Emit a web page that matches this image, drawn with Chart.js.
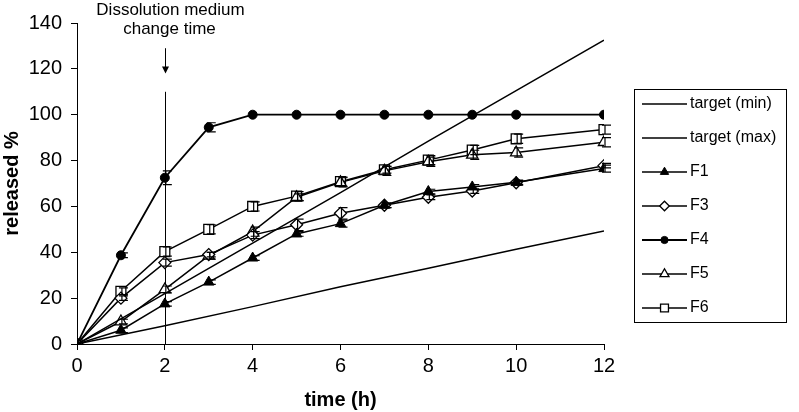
<!DOCTYPE html>
<html>
<head>
<meta charset="utf-8">
<script src="https://cdn.jsdelivr.net/npm/chart.js@4.4.0/dist/chart.umd.min.js"></script>
<style>
  html, body { margin: 0; padding: 0; background: #fff; }
  #wrap { width: 799px; height: 412px; }
</style>
</head>
<body>
<div id="wrap"><canvas id="grafico" width="799" height="412"></canvas></div>
<script>
// time points (h)
var tempos = [0, 1, 2, 3, 4, 5, 6, 7, 8, 9, 10, 12];
var temposAlvo = [0, 2, 4, 6, 8, 10, 12];

// target release limits
var alvoMin = [0, 8, 16.3, 25, 33, 41.3, 49.3];
var alvoMax = [0, 22, 44, 66, 88.5, 110.5, 132.5];

// released % per formulation
var f1 = [0, 6, 17.5, 27, 37.5, 48, 52.5, 60.5, 66.5, 68.5, 70.5, 76.5];
var f3 = [0, 20, 35.5, 39, 47.5, 52, 57, 60.5, 64, 66.7, 70.3, 77.8];
var f4 = [0, 38.7, 72.5, 94.5, 100, 100, 100, 100, 100, 100, 100, 100];
var f5 = [0, 9.8, 23.8, 38.5, 49, 64, 70.5, 75.5, 79.5, 82.5, 83.5, 88];
var f6 = [0, 23, 40.3, 50, 60, 64.5, 70.8, 76, 80.2, 84.6, 89.5, 93.5];

// error bars (sd)
var f1Erro = [0, 1, 1, 1, 1, 1, 1.5, 1, 1, 1, 1, 1.5];
var f3Erro = [0, 1, 1.5, 1, 1.5, 2.5, 2.5, 1, 1, 1, 1, 1];
var f4Erro = [0, 1, 3, 2, 0, 0, 0, 0, 0, 0, 0, 0];
var f5Erro = [0, 1, 1.5, 1.5, 2, 1.5, 2, 2, 2, 2, 2, 2];
var f6Erro = [0, 1.5, 2, 2, 2, 2, 2, 1.5, 2, 2, 2, 2];

// y axis
var yMin = 0, yMax = 140, yPasso = 20;
// x axis
var xMin = 0, xMax = 12, xPasso = 2;

// dissolution medium change annotation
var momentoTroca = 2;
var linhaTrocaTopo = 110;
var setaInicio = 129;
var setaFim = 118;
var textoTroca = ['Dissolution medium', 'change time'];

Chart.defaults.font.family = "'Liberation Sans', Arial, sans-serif";
Chart.defaults.color = '#000';

function pares(xs, ys) {
  return xs.map(function(x, i) { return { x: x, y: ys[i] }; });
}

var datasets = [
  { label: 'target (min)', data: pares(temposAlvo, alvoMin), borderColor: '#000', borderWidth: 1.5, pointRadius: 0 },
  { label: 'target (max)', data: pares(temposAlvo, alvoMax), borderColor: '#000', borderWidth: 1.5, pointRadius: 0 },
  { label: 'F1', data: pares(tempos, f1), erros: f1Erro, borderColor: '#000', borderWidth: 1.5,
    pointStyle: 'triangle', pointRadius: 6, pointBackgroundColor: '#000', pointBorderColor: '#000', pointBorderWidth: 1 },
  { label: 'F3', data: pares(tempos, f3), erros: f3Erro, borderColor: '#000', borderWidth: 1.5,
    pointStyle: 'rectRot', pointRadius: 6, pointBackgroundColor: '#fff', pointBorderColor: '#000', pointBorderWidth: 1.3 },
  { label: 'F4', data: pares(tempos, f4), erros: f4Erro, borderColor: '#000', borderWidth: 1.8,
    pointStyle: 'circle', pointRadius: 4.5, pointBackgroundColor: '#000', pointBorderColor: '#000', pointBorderWidth: 1 },
  { label: 'F5', data: pares(tempos, f5), erros: f5Erro, borderColor: '#000', borderWidth: 1.5,
    pointStyle: 'triangle', pointRadius: 6.5, pointBackgroundColor: '#fff', pointBorderColor: '#000', pointBorderWidth: 1.3 },
  { label: 'F6', data: pares(tempos, f6), erros: f6Erro, borderColor: '#000', borderWidth: 1.5,
    pointStyle: 'rect', pointRadius: 7, pointBackgroundColor: '#fff', pointBorderColor: '#000', pointBorderWidth: 1.3 }
];

datasets.forEach(function(ds) {
  ds.fill = false;
  ds.tension = 0;
  ds.backgroundColor = ds.pointBackgroundColor || '#000';
});

// legend sample: line with the marker in the middle
function criarAmostra(ds) {
  var c = document.createElement('canvas');
  c.width = 70; c.height = 16;
  var g = c.getContext('2d');
  g.strokeStyle = '#000';
  g.lineWidth = ds.borderWidth;
  g.beginPath(); g.moveTo(25, 8); g.lineTo(70, 8); g.stroke();
  if (ds.pointRadius > 0) {
    g.fillStyle = ds.pointBackgroundColor;
    g.lineWidth = ds.pointBorderWidth;
    Chart.helpers.drawPoint(g, { pointStyle: ds.pointStyle, radius: ds.pointRadius * 0.8, rotation: 0, borderWidth: ds.pointBorderWidth }, 47.5, 8);
  }
  return c;
}
var amostras = datasets.map(criarAmostra);

var pluginExtras = {
  id: 'extras',
  beforeDatasetsDraw: function(chart) {
    var ctx = chart.ctx, xs = chart.scales.x, ys = chart.scales.y;
    var px = Math.round(xs.getPixelForValue(momentoTroca)) + 0.5;
    ctx.save();
    ctx.strokeStyle = '#000';
    ctx.fillStyle = '#000';
    ctx.lineWidth = 1;
    ctx.beginPath();
    ctx.moveTo(px, ys.getPixelForValue(0));
    ctx.lineTo(px, ys.getPixelForValue(linhaTrocaTopo));
    ctx.stroke();
    var ya = ys.getPixelForValue(setaInicio), yb = ys.getPixelForValue(setaFim);
    ctx.beginPath();
    ctx.moveTo(px, ya);
    ctx.lineTo(px, yb - 6);
    ctx.stroke();
    ctx.beginPath();
    ctx.moveTo(px - 3.5, yb - 7);
    ctx.lineTo(px + 3.5, yb - 7);
    ctx.lineTo(px, yb);
    ctx.closePath();
    ctx.fill();
    ctx.font = "17px 'Liberation Sans', Arial, sans-serif";
    ctx.textAlign = 'center';
    ctx.textBaseline = 'middle';
    ctx.fillText(textoTroca[0], px + 5, 10);
    ctx.fillText(textoTroca[1], px + 4, 29);
    ctx.restore();
  },
  afterDatasetsDraw: function(chart) {
    var ctx = chart.ctx, xs = chart.scales.x, ys = chart.scales.y;
    ctx.save();
    ctx.strokeStyle = '#000';
    ctx.lineWidth = 1.2;
    chart.data.datasets.forEach(function(ds) {
      if (!ds.erros) return;
      ds.data.forEach(function(p, j) {
        var e = ds.erros[j];
        if (!e) return;
        var x = xs.getPixelForValue(p.x);
        var yt = ys.getPixelForValue(p.y + e), yb = ys.getPixelForValue(p.y - e);
        ctx.beginPath();
        ctx.moveTo(x + 1, yt); ctx.lineTo(x + 1, yb);
        ctx.moveTo(x - 2, yt); ctx.lineTo(x + 7, yt);
        ctx.moveTo(x - 2, yb); ctx.lineTo(x + 7, yb);
        ctx.stroke();
      });
    });
    ctx.restore();
  },
  afterDraw: function(chart) {
    var hb = chart.legend.legendHitBoxes;
    if (!hb || !hb.length) return;
    var ctx = chart.ctx;
    var dir = 0;
    hb.forEach(function(h) { dir = Math.max(dir, h.left + h.width); });
    var x0 = hb[0].left + 12, y0 = hb[0].top - 7;
    var ult = hb[hb.length - 1];
    var y1 = ult.top + ult.height + 6;
    ctx.save();
    ctx.strokeStyle = '#000';
    ctx.lineWidth = 1;
    ctx.strokeRect(Math.round(x0) + 0.5, Math.round(y0) + 0.5, Math.round(dir + 10 - x0), Math.round(y1 - y0));
    ctx.restore();
  }
};

var grafico = new Chart(document.getElementById('grafico').getContext('2d'), {
  type: 'line',
  data: { datasets: datasets },
  plugins: [pluginExtras],
  options: {
    responsive: false,
    animation: false,
    layout: { padding: 0 },
    plugins: {
      tooltip: { enabled: false },
      legend: {
        position: 'right',
        labels: {
          usePointStyle: true,
          pointStyleWidth: 60,
          boxHeight: 16,
          padding: 18,
          font: { size: 16 },
          color: '#000',
          generateLabels: function(chart) {
            return chart.data.datasets.map(function(ds, i) {
              return { text: ds.label, pointStyle: amostras[i], datasetIndex: i, hidden: false,
                       lineWidth: 0, fillStyle: '#000', strokeStyle: '#000', fontColor: '#000' };
            });
          }
        }
      }
    },
    scales: {
      x: {
        type: 'linear',
        min: xMin, max: xMax,
        ticks: { stepSize: xPasso, font: { size: 20 }, color: '#000', padding: 4, maxRotation: 0 },
        grid: { drawOnChartArea: false, tickLength: 6, color: '#000' },
        border: { color: '#000', width: 1 },
        title: { display: true, text: 'time (h)', font: { size: 20, weight: 'bold' }, color: '#000', padding: 0 },
        afterFit: function(s) { s.height = 68; s.paddingRight = 195; }
      },
      y: {
        min: yMin, max: yMax,
        ticks: { stepSize: yPasso, font: { size: 20 }, color: '#000', padding: 9 },
        grid: { drawOnChartArea: false, tickLength: 6, color: '#000' },
        border: { color: '#000', width: 1 },
        title: { display: true, text: 'released %', font: { size: 20, weight: 'bold' }, color: '#000', padding: 0 },
        afterFit: function(s) { s.width = 77; s.paddingTop = 23; }
      }
    }
  }
});
</script>
</body>
</html>
